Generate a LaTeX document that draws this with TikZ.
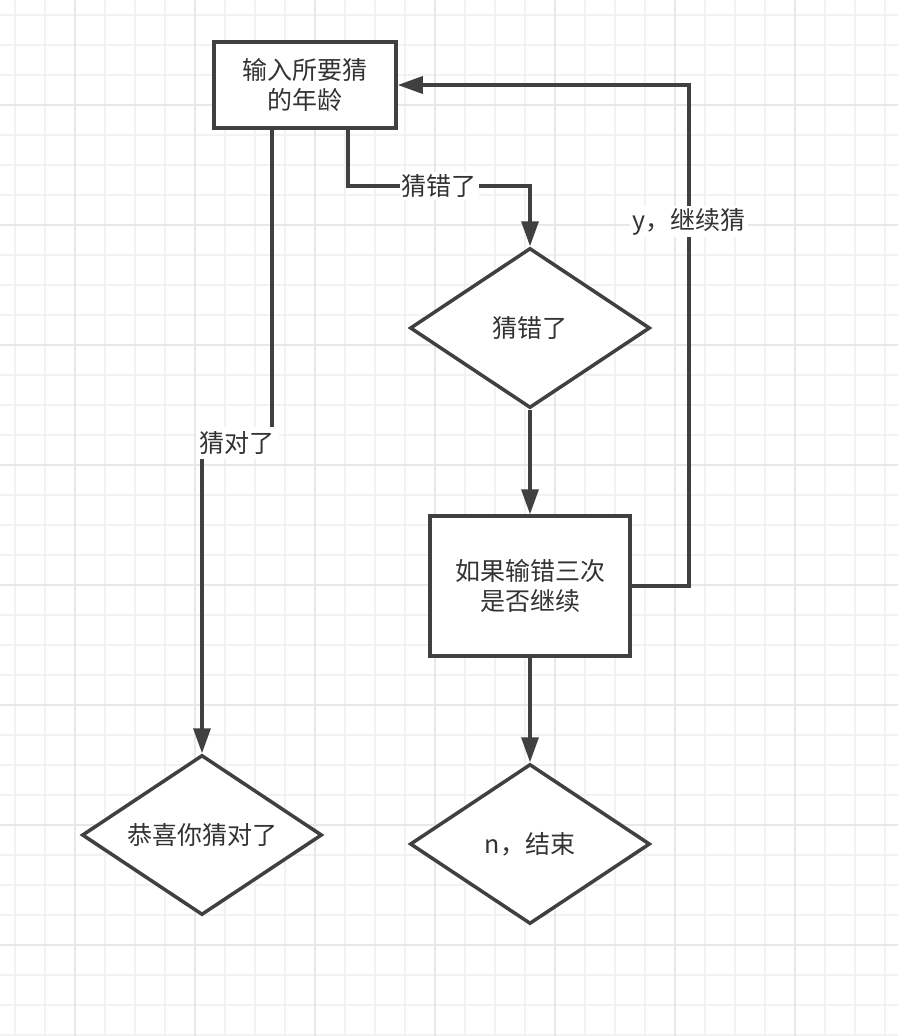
\documentclass[tikz,border=0pt]{standalone}
\usepackage{fontspec}
\setmainfont{Noto Sans CJK SC}
\usetikzlibrary{shapes.geometric,arrows.meta}
\definecolor{linec}{HTML}{404040}
\definecolor{textc}{HTML}{333333}
\definecolor{gridminor}{HTML}{F2F2F2}
\definecolor{gridmajor}{HTML}{E8E8E8}
\begin{document}
\begin{tikzpicture}[x=1pt,y=-1pt,
  every node/.style={font=\fontsize{25}{30}\selectfont, text=textc},
  procbox/.style={draw=linec, line width=3.5pt, fill=white, align=center, inner sep=0pt},
  decision/.style={diamond, draw=linec, line width=3.5pt, fill=white, aspect=1.5, minimum width=240pt, minimum height=160pt, inner sep=0pt, align=center},
  arr/.style={draw=linec, line width=3.5pt, -{Triangle[length=25pt,width=17pt]}},
  conn/.style={draw=linec, line width=3.5pt},
  lbl/.style={fill=white, inner sep=2pt}
]
\useasboundingbox (0,0) rectangle (898,1036);
\fill[white] (0,0) rectangle (898,1036);
% grid
\foreach \i in {15,45,...,905} {
  \draw[gridminor, line width=1.2pt] (\i,0) -- (\i,1036);
}
\foreach \j in {15,45,...,1040} {
  \draw[gridminor, line width=1.2pt] (0,\j) -- (898,\j);
}
\foreach \i in {75,195,...,905} {
  \draw[gridmajor, line width=1.6pt] (\i,0) -- (\i,1036);
}
\foreach \j in {105,225,...,1040} {
  \draw[gridmajor, line width=1.6pt] (0,\j) -- (898,\j);
}
% nodes
\node[procbox, minimum width=182pt, minimum height=86pt] (box1) at (305,85) {输入所要猜\\的年龄};
\node[decision] (d1) at (530,328) {猜错了};
\node[procbox, minimum width=200pt, minimum height=140pt] (box2) at (530,586) {如果输错三次\\是否继续};
\node[decision] (d2) at (530,844) {n，结束};
\node[decision] (d3) at (202,835) {恭喜你猜对了};
% junction coordinates
\coordinate (j1) at (348,186);
\coordinate (j2) at (689,586);
\coordinate (j3) at (689,85);
\coordinate (j4) at (272,443);
\coordinate (j5) at (202,443);
% connectors
\draw[arr] (box1.south -| j1) -- (j1) -- node[lbl]{猜错了} (j1 -| d1.north) -- (d1.north);
\draw[arr] (d1.south) -- (box2.north);
\draw[arr] (box2.east) -- (j2) -- node[lbl, pos=0.727]{y，继续猜} (j3) -- (box1.east);
\draw[arr] (box2.south) -- (d2.north);
\draw[arr] (box1.south -| j4) -- (j4) -- node[lbl, inner sep=4pt]{猜对了} (j5) -- (d3.north);
\end{tikzpicture}
\end{document}
